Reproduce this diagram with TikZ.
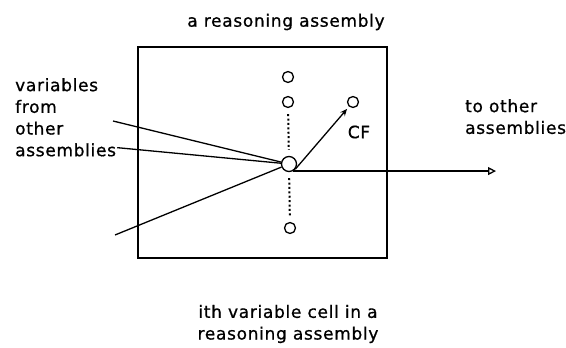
\documentclass[tikz,border=0pt]{standalone}
\usepackage{fontspec}
\setmainfont[LetterSpace=4,FakeBold=0.8]{DejaVu Sans}
\usetikzlibrary{arrows.meta}

\begin{document}
\begin{tikzpicture}[x=1pt,y=-1pt,font=\fontsize{17}{21.7}\selectfont,
  cell/.style={draw,circle,line width=1.3pt,inner sep=0pt,minimum size=11pt},
  cellbig/.style={cell,minimum size=15pt},
  lbl/.style={inner sep=0pt,align=left},
  ln/.style={line width=1.3pt},
  dots/.style={line width=2pt,dash pattern=on 2pt off 2.4pt}]
\useasboundingbox (0,0) rectangle (566,348);

% the assembly
\node[draw,line width=1.5pt,minimum width=249pt,minimum height=211pt,inner sep=0pt] (box) at (262.5,152.5) {};
\node[lbl] (title) at (286,22) {a reasoning assembly};
\node[lbl,align=center] (caption) at (288,324) {ith variable cell in a\\reasoning assembly};

% the variable cells
\node[cell] (c1) at (288,77) {};
\node[cell] (c2) at (288,102) {};
\node[cellbig] (ci) at (289,164) {};
\node[cell] (cn) at (290,228) {};
\node[cell] (cf) at (353,102) {};
\node[lbl] (cflbl) at (359,132) {CF};

\draw[dots,shorten <=6pt,shorten >=6pt] (c2) -- (ci);
\draw[dots,shorten <=6pt,shorten >=6pt] (ci) -- (cn);

% inputs and outputs
\node[lbl,anchor=north west] (vars) at (15,78) {variables\\from\\other\\assemblies};
\node[lbl,anchor=north west] (outlbl) at (465,99) {to other\\assemblies};
\coordinate (in1) at (113,121);
\coordinate (in3) at (115,235);
\coordinate (out) at (496,170);

\draw[ln] (in1) -- (ci);
\draw[ln] (vars.south east) ++(1,-9) -- (ci);
\draw[ln] (in3) -- (ci);
\draw[ln,-{Stealth[length=7pt,width=6pt]},shorten >=3pt] (ci.-40) -- (cf);
\draw[ln,-{Triangle[open,length=8pt,width=8pt]}] (ci.-60) -- (ci.-60 -| out);
\end{tikzpicture}
\end{document}
